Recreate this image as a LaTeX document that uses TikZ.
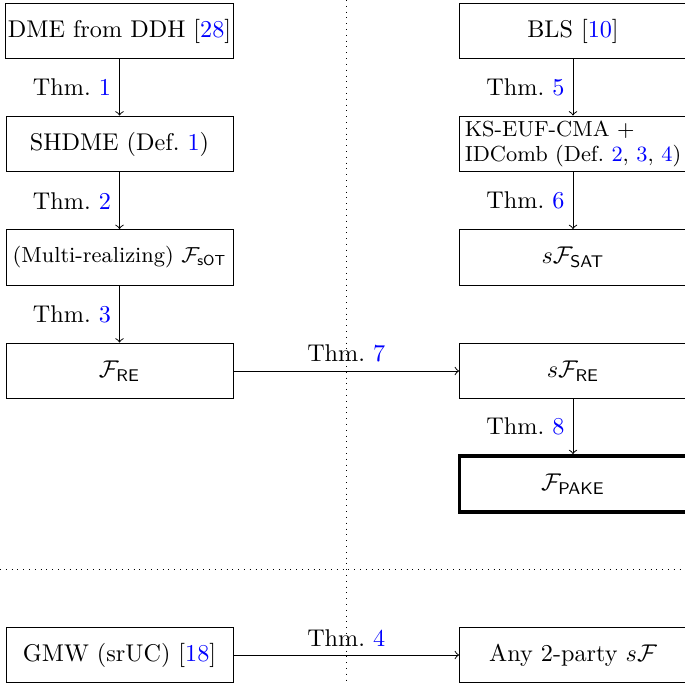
\documentclass[tikz,border=0pt]{standalone}
\usepackage{amsmath}
\definecolor{refblue}{RGB}{0,0,255}
\newcommand{\rf}[1]{\textcolor{refblue}{#1}}
\begin{document}
\begin{tikzpicture}[x=0.41322pt,y=-0.41322pt,
  box/.style={draw, rectangle, minimum width=93.8pt, minimum height=23.1pt, inner xsep=1pt, font=\normalsize},
  goal/.style={box, line width=1.6pt},
  thm/.style={font=\normalsize},
  link/.style={->}]
\useasboundingbox (0,0) rectangle (684,685);
% separators
\draw[dotted] (346,0) -- (346,685);
\draw[dotted] (0,569) -- (684,569);
% left column
\node[box] (dme) at (119.5,31) {DME from DDH [\rf{28}]};
\node[box] (shdme) at (119.5,144) {SHDME (Def.~\rf{1})};
\node[box, font=\small] (sot) at (119.5,257.5) {(Multi-realizing) $\mathcal{F}_{\mathsf{sOT}}$};
\node[box] (fre) at (119.5,371) {$\mathcal{F}_{\mathsf{RE}}$};
\node[box] (gmw) at (119.5,655) {GMW (srUC) [\rf{18}]};
% right column
\node[box] (bls) at (573,31) {BLS [\rf{10}]};
\node[box, font=\small, align=left, inner ysep=0.5pt] (ks) at (573,144) {KS-EUF-CMA +\\[-1pt]IDComb (Def.~\rf{2}, \rf{3}, \rf{4})};
\node[box] (ssat) at (573,257.5) {$s\mathcal{F}_{\mathsf{SAT}}$};
\node[box] (sfre) at (573,371) {$s\mathcal{F}_{\mathsf{RE}}$};
\node[goal] (pake) at (573,484) {$\mathcal{F}_{\mathsf{PAKE}}$};
\node[box] (any) at (573,655) {Any 2-party $s\mathcal{F}$};
% connectors
\draw[link] (dme) -- node[thm,left] {Thm.~\rf{1}} (shdme);
\draw[link] (shdme) -- node[thm,left] {Thm.~\rf{2}} (sot);
\draw[link] (sot) -- node[thm,left] {Thm.~\rf{3}} (fre);
\draw[link] (bls) -- node[thm,left] {Thm.~\rf{5}} (ks);
\draw[link] (ks) -- node[thm,left] {Thm.~\rf{6}} (ssat);
\draw[link] (sfre) -- node[thm,left] {Thm.~\rf{8}} (pake);
\draw[link] (fre) -- node[thm,above] {Thm.~\rf{7}} (sfre);
\draw[link] (gmw) -- node[thm,above] {Thm.~\rf{4}} (any);
\end{tikzpicture}
\end{document}
